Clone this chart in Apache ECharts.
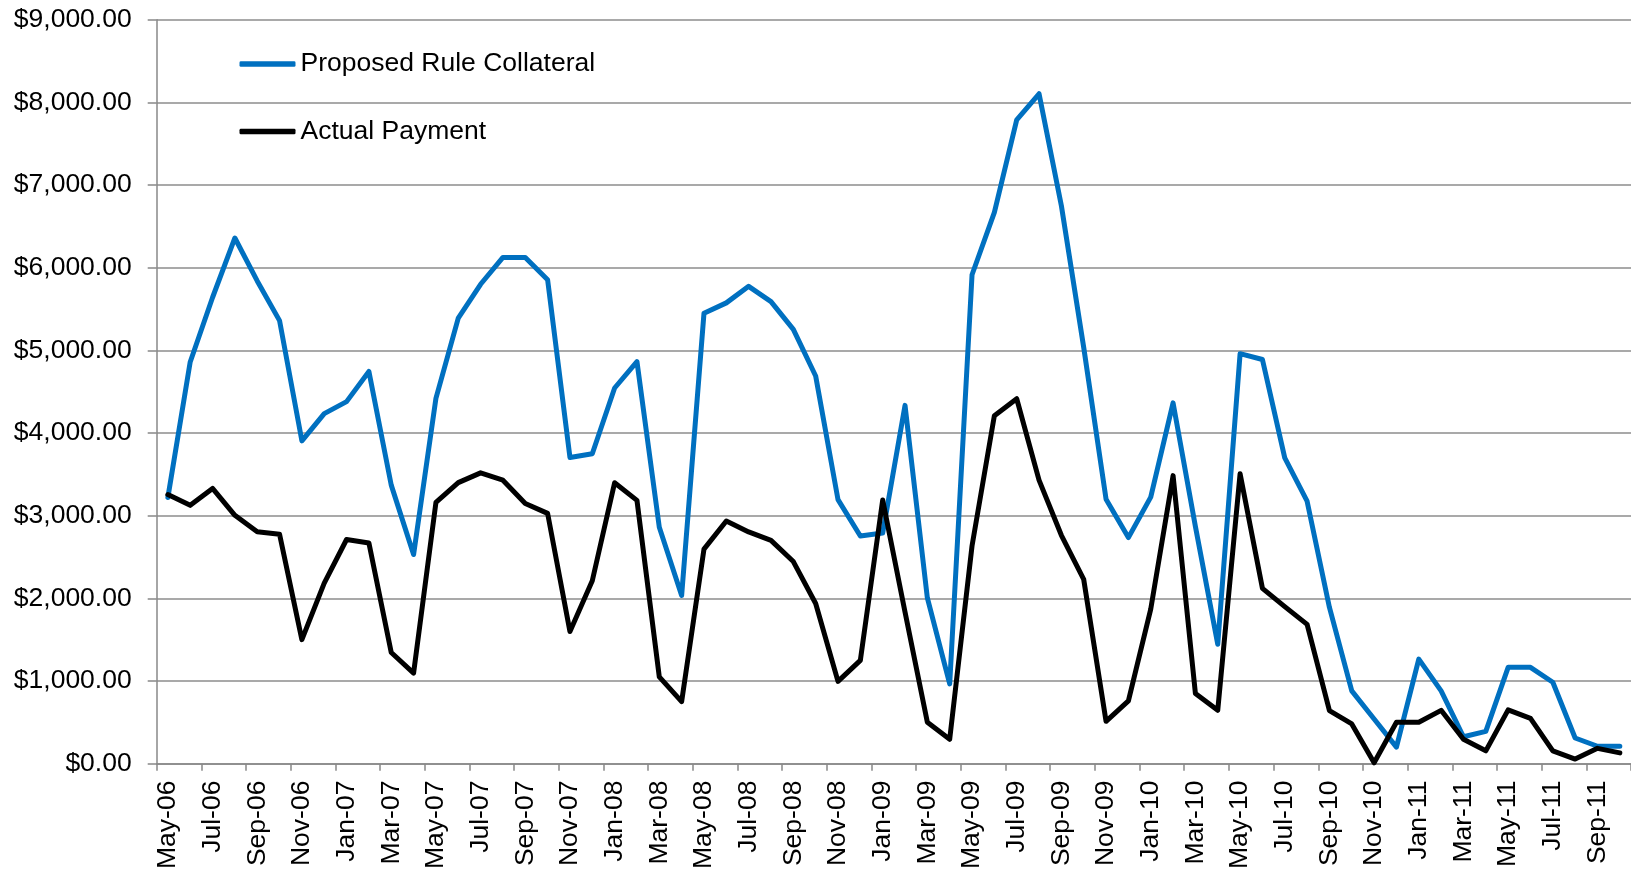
<!DOCTYPE html>
<html>
<head>
<meta charset="utf-8">
<script src="https://cdn.jsdelivr.net/npm/echarts@6/dist/echarts.min.js"></script>
<style>
html,body{margin:0;padding:0;background:#fff;}
#chart{width:1631px;height:872px;}
</style>
</head>
<body>
<div id="chart"></div>
<script>
const categories = [
 'May-06','Jun-06','Jul-06','Aug-06','Sep-06','Oct-06','Nov-06','Dec-06',
 'Jan-07','Feb-07','Mar-07','Apr-07','May-07','Jun-07','Jul-07','Aug-07','Sep-07','Oct-07','Nov-07','Dec-07',
 'Jan-08','Feb-08','Mar-08','Apr-08','May-08','Jun-08','Jul-08','Aug-08','Sep-08','Oct-08','Nov-08','Dec-08',
 'Jan-09','Feb-09','Mar-09','Apr-09','May-09','Jun-09','Jul-09','Aug-09','Sep-09','Oct-09','Nov-09','Dec-09',
 'Jan-10','Feb-10','Mar-10','Apr-10','May-10','Jun-10','Jul-10','Aug-10','Sep-10','Oct-10','Nov-10','Dec-10',
 'Jan-11','Feb-11','Mar-11','Apr-11','May-11','Jun-11','Jul-11','Aug-11','Sep-11','Oct-11'
];
const proposedRuleCollateral = [
 3220,4860,5640,6360,5840,5360,3905,4235,4380,4745,3370,2530,
 4420,5390,5800,6125,6125,5855,3705,3750,4545,4865,2860,2035,
 5450,5575,5775,5590,5255,4690,3195,2755,2790,4335,2005,965,
 5915,6670,7790,8105,6750,5035,3200,2735,3225,4365,2870,1445,
 4960,4890,3700,3175,1890,880,540,200,1265,880,325,390,
 1165,1165,985,310,210,210
];
const actualPayment = [
 3255,3125,3330,3005,2805,2775,1500,2185,2712,2670,1345,1095,
 3160,3400,3518,3430,3148,3028,1598,2212,3398,3185,1050,750,
 2595,2935,2804,2702,2445,1938,995,1250,3190,1835,500,295,
 2635,4210,4415,3430,2763,2228,512,760,1870,3485,850,645,
 3508,2121,1900,1685,642,480,10,500,500,645,295,155,
 650,548,155,55,185,130
];
const yTicks = {min:0, max:9000, interval:1000};

const FONT = '"Liberation Sans", Arial, sans-serif';
const FS = 26.5;
const chart = echarts.init(document.getElementById('chart'), null, {renderer:'canvas'});

function money(v){
  return '$' + v.toLocaleString('en-US',{minimumFractionDigits:2, maximumFractionDigits:2});
}

const gridLeft = 156.7;
const gridTop = 19.8;
const plotWidth = 1478.4;
const plotBottom = 872 - 766.6;

const legendBase = {
  orient:'vertical', left:239.5, padding:0,
  icon:'roundRect', itemWidth:56, itemHeight:5.5,
  textStyle:{fontFamily:FONT, fontSize:FS, color:'#000', lineHeight:30}
};

chart.setOption({
  animation:false,
  backgroundColor:'#ffffff',
  grid:{left:gridLeft, top:gridTop, width:plotWidth, bottom:plotBottom, containLabel:false},
  legend:[
    Object.assign({}, legendBase, {data:['Proposed Rule Collateral'], top:49}),
    Object.assign({}, legendBase, {data:['Actual Payment'], top:116.5})
  ],
  xAxis:{
    type:'category',
    data:categories,
    boundaryGap:true,
    axisLine:{lineStyle:{color:'#888888', width:1.5}},
    axisTick:{show:true, interval:1, length:7, alignWithLabel:false, lineStyle:{color:'#888888', width:1.5}},
    axisLabel:{interval:1, rotate:90, margin:17, fontFamily:FONT, fontSize:FS, color:'#000'},
    splitLine:{show:false}
  },
  yAxis:{
    type:'value',
    min:yTicks.min, max:yTicks.max, interval:yTicks.interval,
    axisLine:{show:true, lineStyle:{color:'#888888', width:1.5}},
    axisTick:{show:true, length:9, lineStyle:{color:'#888888', width:1.5}},
    axisLabel:{margin:25, fontFamily:FONT, fontSize:FS, color:'#000', formatter:money},
    splitLine:{show:true, lineStyle:{color:'#8c8c8c', width:1.5}}
  },
  series:[
    {name:'Proposed Rule Collateral', type:'line', data:proposedRuleCollateral,
     showSymbol:false, symbol:'none', smooth:false,
     lineStyle:{color:'#0070C0', width:5, cap:'round', join:'round'},
     itemStyle:{color:'#0070C0'}},
    {name:'Actual Payment', type:'line', data:actualPayment,
     showSymbol:false, symbol:'none', smooth:false,
     lineStyle:{color:'#000000', width:5, cap:'round', join:'round'},
     itemStyle:{color:'#000000'}}
  ]
});
</script>
</body>
</html>
